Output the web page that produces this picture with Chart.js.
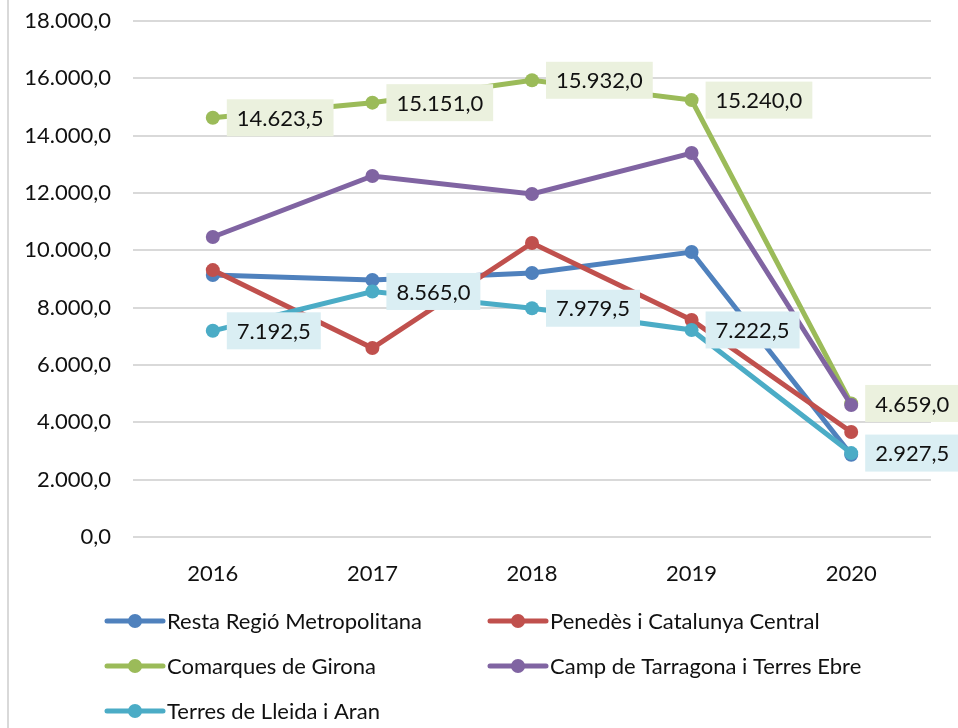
<!DOCTYPE html>
<html>
<head>
<meta charset="utf-8">
<script src="https://cdn.jsdelivr.net/npm/chart.js@4/dist/chart.umd.min.js"></script>
<style>
  html, body { margin: 0; padding: 0; background: #fff; }
  canvas { display: block; }
</style>
</head>
<body>
<canvas id="chart" width="958" height="728"></canvas>
<script>
// Data
const years = ["2016", "2017", "2018", "2019", "2020"];
const seriesNames = [
    "Resta Regió Metropolitana",
    "Penedès i Catalunya Central",
    "Comarques de Girona",
    "Camp de Tarragona i Terres Ebre",
    "Terres de Lleida i Aran"
];
const resta = [9140, 8965, 9210, 9940, 2870];
const penedes = [9310, 6590, 10255, 7570, 3665];
const girona = [14623.5, 15151.0, 15932.0, 15240.0, 4659.0];
const tarragona = [10465, 12595, 11965, 13395, 4605];
const lleida = [7192.5, 8565.0, 7979.5, 7222.5, 2927.5];
const yMin = 0, yMax = 18000, yStep = 2000;

const colors = ["#4F81BD", "#C0504D", "#9BBB59", "#8064A2", "#4BACC6"];
const allSeries = [resta, penedes, girona, tarragona, lleida];
// series that show value boxes, with the box colour
const labelBoxes = { 2: "#EBF1DE", 4: "#DAEEF3" };

const FONT = "Lato";
const FSIZE = 22;
const TEXT = "#111";

// 14623.5 -> "14.623,5"
function fmt(v) {
    const parts = Math.abs(v).toFixed(1).split(".");
    const int = parts[0].replace(/\B(?=(\d{3})+(?!\d))/g, ".");
    return (v < 0 ? "-" : "") + int + "," + parts[1];
}

// white background + frame line on the left
const background = {
    id: "background",
    beforeDraw(chart) {
        const ctx = chart.ctx;
        ctx.save();
        ctx.fillStyle = "#fff";
        ctx.fillRect(0, 0, chart.width, chart.height);
        ctx.strokeStyle = "#d9d9d9";
        ctx.lineWidth = 2;
        ctx.beginPath();
        ctx.moveTo(8, 0);
        ctx.lineTo(8, chart.height);
        ctx.stroke();
        ctx.restore();
    }
};

// value boxes to the right of the points
const valueBoxes = {
    id: "valueBoxes",
    afterDatasetsDraw(chart) {
        const ctx = chart.ctx;
        ctx.save();
        ctx.font = FSIZE + "px " + FONT;
        ctx.textBaseline = "middle";
        ctx.textAlign = "left";
        chart.data.datasets.forEach((ds, i) => {
            const bg = labelBoxes[i];
            if (!bg) return;
            const meta = chart.getDatasetMeta(i);
            meta.data.forEach((pt, j) => {
                const txt = fmt(ds.data[j]);
                const w = ctx.measureText(txt).width + 20;
                const x = pt.x + 14, y = pt.y;
                ctx.fillStyle = bg;
                ctx.fillRect(x, y - 18.5, w, 37);
                ctx.fillStyle = TEXT;
                ctx.fillText(txt, x + 10, y + 1);
            });
        });
        ctx.restore();
    }
};

// two-column legend at the bottom
const gridLegend = {
    id: "gridLegend",
    afterDraw(chart) {
        const ctx = chart.ctx;
        const cols = [107, 490];
        const rows = [621, 666, 711];
        ctx.save();
        ctx.font = FSIZE + "px " + FONT;
        ctx.textBaseline = "middle";
        chart.data.datasets.forEach((ds, i) => {
            const x = cols[i % 2], y = rows[Math.floor(i / 2)];
            ctx.strokeStyle = ds.borderColor;
            ctx.lineWidth = 5;
            ctx.lineCap = "round";
            ctx.beginPath();
            ctx.moveTo(x, y);
            ctx.lineTo(x + 56, y);
            ctx.stroke();
            ctx.fillStyle = ds.borderColor;
            ctx.beginPath();
            ctx.arc(x + 28, y, 7, 0, Math.PI * 2);
            ctx.fill();
            ctx.fillStyle = TEXT;
            ctx.fillText(ds.label, x + 60, y + 1);
        });
        ctx.restore();
    }
};

new Chart(document.getElementById("chart"), {
    type: "line",
    data: {
        labels: years,
        datasets: allSeries.map((d, i) => ({
            label: seriesNames[i],
            data: d,
            borderColor: colors[i],
            backgroundColor: colors[i],
            pointBackgroundColor: colors[i],
            pointBorderWidth: 0,
            pointRadius: 7,
            borderWidth: 5,
            tension: 0,
            order: allSeries.length - i // later series drawn on top
        }))
    },
    options: {
        responsive: false,
        animation: false,
        devicePixelRatio: 1,
        layout: { padding: { left: 8, right: 27, top: 21, bottom: 146 } },
        plugins: {
            legend: { display: false },
            tooltip: { enabled: false }
        },
        scales: {
            x: {
                offset: true,
                grid: { display: false },
                border: { display: false },
                ticks: { color: TEXT, font: { family: FONT, size: FSIZE }, padding: 16 },
                afterFit(scale) { scale.height = 45; }
            },
            y: {
                min: yMin,
                max: yMax,
                grid: { color: "#d9d9d9", lineWidth: 2, drawTicks: false },
                border: { display: false },
                ticks: {
                    stepSize: yStep,
                    color: TEXT,
                    font: { family: FONT, size: FSIZE },
                    padding: 22,
                    callback: v => fmt(v)
                },
                afterFit(scale) {
                    scale.width = 125;
                    // top label fits in the layout padding
                    scale.paddingTop = 0;
                    scale.paddingBottom = 0;
                }
            }
        }
    },
    plugins: [background, valueBoxes, gridLegend]
});
</script>
</body>
</html>
